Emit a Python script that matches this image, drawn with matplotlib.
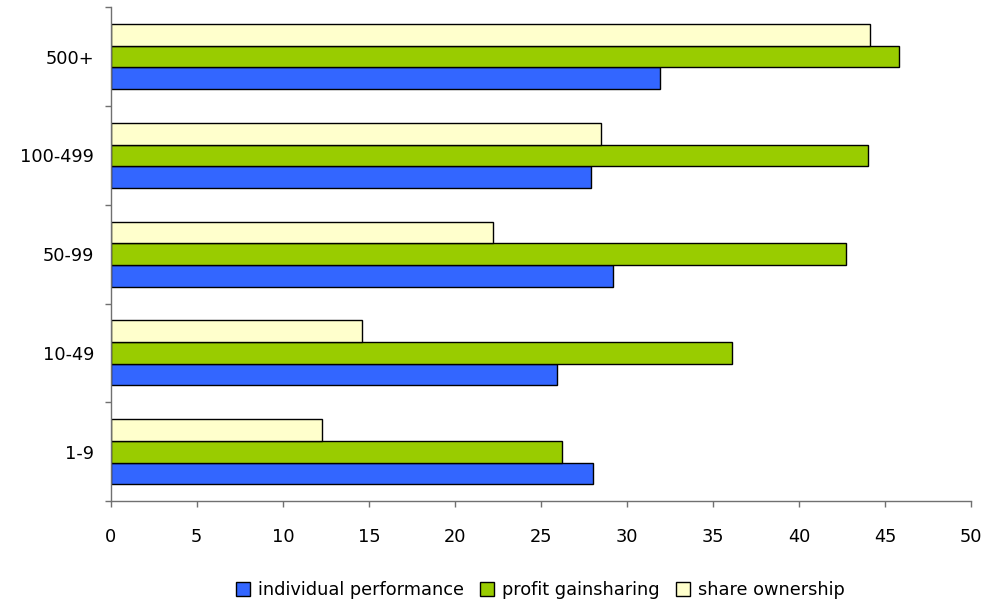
import numpy as np
import matplotlib
matplotlib.use("Agg")
import matplotlib.pyplot as plt
from matplotlib.ticker import FixedLocator

# company size bands, bottom to top
sizes = ["1-9", "10-49", "50-99", "100-499", "500+"]
individual = [28.0, 25.9, 29.2, 27.9, 31.9]
profit = [26.2, 36.1, 42.7, 44.0, 45.8]
share = [12.3, 14.6, 22.2, 28.5, 44.1]

series_names = ["individual performance", "profit gainsharing", "share ownership"]
colors = ["#3366FF", "#99CC00", "#FFFFCC"]

fig = plt.figure(figsize=(10.01, 6.04), dpi=100)
ax = fig.add_axes([0.1106, 0.1705, 0.8598, 0.8175])

y = np.arange(len(sizes))
h = 0.22
for k, (vals, name, c) in enumerate(zip([individual, profit, share], series_names, colors)):
    ax.barh(y + (k - 1) * h, vals, height=h, color=c, edgecolor="black",
            linewidth=1.0, label=name)

ax.set_xlim(0, 50)
ax.set_ylim(-0.5, len(sizes) - 0.5)
ax.set_xticks(np.arange(0, 51, 5))

# category labels sit in the middle, tick marks on the group boundaries
ax.yaxis.set_major_locator(FixedLocator(np.arange(-0.5, len(sizes), 1.0)))
ax.yaxis.set_major_formatter(plt.NullFormatter())
ax.yaxis.set_minor_locator(FixedLocator(y))
ax.set_yticklabels(sizes, minor=True)

spine_col = "#707070"
for s in ["top", "right"]:
    ax.spines[s].set_visible(False)
for s in ["left", "bottom"]:
    ax.spines[s].set_color(spine_col)
    ax.spines[s].set_linewidth(1.0)

ax.tick_params(axis="x", which="major", direction="out", length=4.5, width=1.0,
               color=spine_col, pad=15, labelsize=12.8)
ax.tick_params(axis="y", which="major", direction="out", length=4.5, width=1.0,
               color=spine_col)
ax.tick_params(axis="y", which="minor", length=0, pad=12, labelsize=12.8)

leg = fig.legend(loc="center", bbox_to_anchor=(0.54, 0.023), ncol=3, frameon=False,
                 fontsize=12.8, handlelength=0.8, handleheight=0.8,
                 handletextpad=0.45, columnspacing=0.9)

fig.savefig("out.png", dpi=100)
